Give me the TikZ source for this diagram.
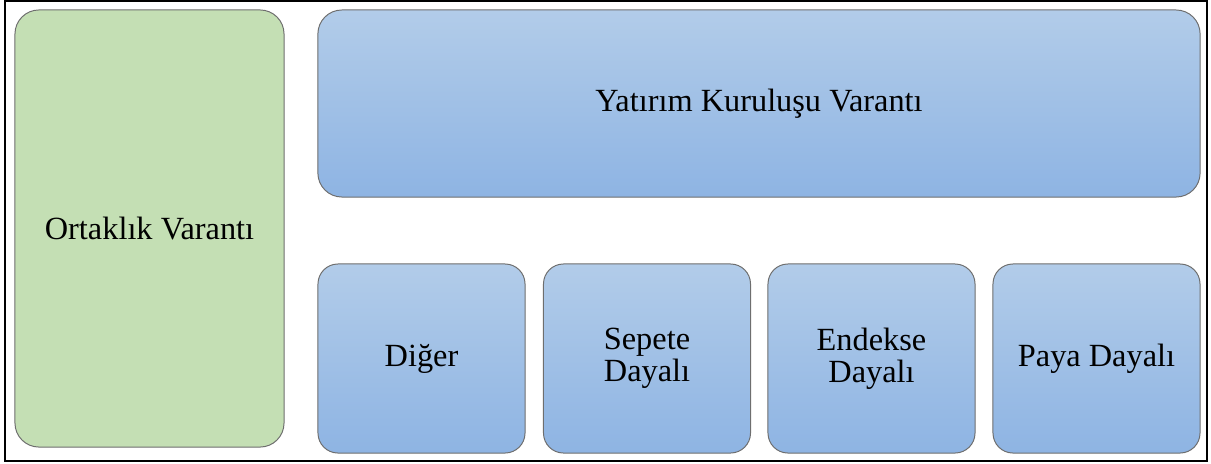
\documentclass[tikz,border=0pt]{standalone}
\usepackage{fontspec}
\setmainfont{Liberation Serif}
\definecolor{ortakgreen}{RGB}{196, 223, 180}
\definecolor{bluetop}{RGB}{178, 204, 233}
\definecolor{bluebottom}{RGB}{142, 180, 227}
\definecolor{boxline}{RGB}{110, 110, 110}

\begin{document}
\begin{tikzpicture}[x=0.025cm, y=-0.025cm,
	box/.style={draw=boxline, line width=0.7pt, rounded corners=0.6cm, align=center,
		font=\fontsize{23}{22.5}\selectfont, inner sep=0pt},
	greenbox/.style={box, fill=ortakgreen},
	bluebox/.style={box, top color=bluetop, bottom color=bluebottom}]
			\useasboundingbox (0, 0) rectangle (1211, 463);
			\draw [line width=2.1pt] (5, 1) rectangle (1207, 461);
			% sol kutu
			\node (ortaklik) [greenbox, minimum width=6.725cm, minimum height=10.925cm] at (149.5, 228.5) {Ortaklık Varantı};
			% ust kutu
			\node (kurulus) [bluebox, minimum width=22.05cm, minimum height=4.675cm] at (759, 103.5) {Yatırım Kuruluşu Varantı};
			% alt kutular
			\node (diger) [bluebox, minimum width=5.175cm, minimum height=4.725cm, rounded corners=0.5cm] at (421.5, 358.5) {Diğer};
			\node (sepet) [bluebox, minimum width=5.175cm, minimum height=4.725cm, rounded corners=0.5cm] at (647, 358.5) {Sepete\\Dayalı};
			\node (endeks) [bluebox, minimum width=5.175cm, minimum height=4.725cm, rounded corners=0.5cm] at (871.5, 358.5) {Endekse\\Dayalı};
			\node (pay) [bluebox, minimum width=5.175cm, minimum height=4.725cm, rounded corners=0.5cm] at (1096.5, 358.5) {Paya Dayalı};
		\end{tikzpicture}
\end{document}
